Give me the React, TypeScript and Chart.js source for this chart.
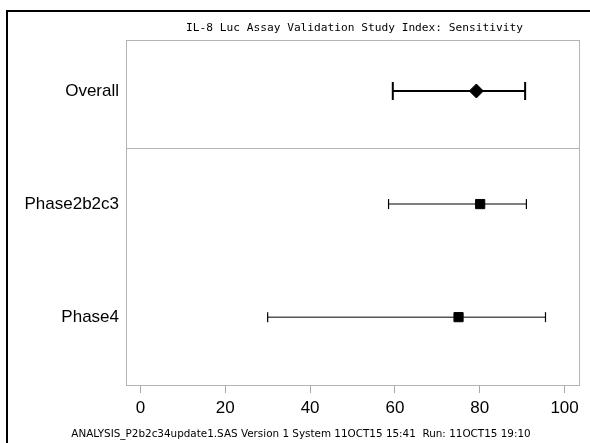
import React, { useEffect, useRef } from "react";
import { Chart, registerables } from "chart.js";

Chart.register(...registerables);

const TITLE = "IL-8 Luc Assay Validation Study Index: Sensitivity";
const FOOTNOTE = "ANALYSIS_P2b2c34update1.SAS Version 1 System 11OCT15 15:41  Run: 11OCT15 19:10";
const ROW_LABELS = ["Overall", "Phase2b2c3", "Phase4"];
const ROW_POS = [1, 2, 3];
const ESTIMATES = [79.2, 80.1, 75.0];
const LOWER = [59.5, 58.5, 30.0];
const UPPER = [90.7, 91.0, 95.5];
const X_TICKS = [0, 20, 40, 60, 80, 100];
const X_MIN = -3.4;
const X_MAX = 103.4;
const Y_MIN = 0.549;
const Y_MAX = 3.6;
const SEPARATOR = 1.5;

const W = 590;
const H = 443;

export default function App() {
  const ref = useRef<HTMLCanvasElement | null>(null);

  useEffect(() => {
    const canvas = ref.current;
    if (!canvas) return;

    const framePlugin = {
      id: "framePlugin",
      beforeDatasetsDraw(chart: any) {
        const { ctx, chartArea } = chart;
        const y = chart.scales.y;
        ctx.save();
        ctx.strokeStyle = "#b4b4b4";
        ctx.lineWidth = 1;
        ctx.strokeRect(
          Math.round(chartArea.left) + 0.5,
          Math.round(chartArea.top) + 0.5,
          Math.round(chartArea.right - chartArea.left),
          Math.round(chartArea.bottom - chartArea.top)
        );
        const sy = Math.round(y.getPixelForValue(SEPARATOR)) + 0.5;
        ctx.beginPath();
        ctx.moveTo(chartArea.left, sy);
        ctx.lineTo(chartArea.right, sy);
        ctx.stroke();
        ctx.restore();
      },
      afterDraw(chart: any) {
        const { ctx, chartArea } = chart;
        ctx.save();
        // outer frame
        ctx.strokeStyle = "#000";
        ctx.lineWidth = 2;
        ctx.beginPath();
        ctx.moveTo(7, H);
        ctx.lineTo(7, 11);
        ctx.lineTo(W, 11);
        ctx.stroke();
        // title
        ctx.fillStyle = "#000";
        ctx.textAlign = "center";
        ctx.textBaseline = "middle";
        ctx.font = "11.2px 'DejaVu Sans Mono'";
        ctx.fillText(TITLE, (chartArea.left + chartArea.right) / 2 + 2, 28);
        // footnote
        ctx.font = "10.4px 'DejaVu Sans'";
        ctx.fillText(FOOTNOTE, 301, 434);
        ctx.restore();
      },
    };

    const chart = new Chart(canvas, {
      type: "scatter",
      data: {
        datasets: [
          {
            label: "Estimate",
            data: ESTIMATES.map((v, i) => ({ x: v, y: ROW_POS[i] })),
            pointStyle: ESTIMATES.map((_, i) => (i === 0 ? "rectRot" : "rect")) as any,
            pointRadius: ESTIMATES.map((_, i) => (i === 0 ? 7 : 6.5)),
            pointBackgroundColor: "#000",
            pointBorderColor: "#000",
            pointBorderWidth: 1,
            showLine: false,
          },
          ...ROW_POS.map((p, i) => ({
            label: ROW_LABELS[i],
            data: [
              { x: LOWER[i], y: p },
              { x: UPPER[i], y: p },
            ],
            showLine: true,
            borderColor: i === 0 ? "#000" : "#555",
            borderWidth: i === 0 ? 2 : 1.5,
            pointStyle: "line" as any,
            rotation: 90,
            pointRadius: i === 0 ? 9 : 5,
            pointBorderColor: "#000",
            pointBorderWidth: i === 0 ? 2 : 1.2,
            pointBackgroundColor: "#000",
          })),
        ],
      },
      options: {
        responsive: false,
        animation: false,
        events: [],
        layout: { padding: { top: 40, right: 9, left: 0, bottom: 0 } },
        plugins: {
          legend: { display: false },
          tooltip: { enabled: false },
          title: { display: false },
        },
        scales: {
          x: {
            type: "linear",
            min: X_MIN,
            max: X_MAX,
            border: { display: false },
            grid: {
              display: true,
              drawOnChartArea: false,
              drawTicks: true,
              tickLength: 8,
              tickColor: "#a8a8a8",
              color: "#a8a8a8",
            },
            ticks: {
              color: "#000",
              font: { family: "'Liberation Sans', Arial", size: 17 },
              padding: 5,
              maxRotation: 0,
              autoSkip: false,
            },
            afterBuildTicks: (scale: any) => {
              scale.ticks = X_TICKS.map((v) => ({ value: v }));
            },
            afterFit: (scale: any) => {
              scale.height = 58;
            },
          },
          y: {
            type: "linear",
            reverse: true,
            min: Y_MIN,
            max: Y_MAX,
            border: { display: false },
            grid: { display: false, drawTicks: false },
            ticks: {
              color: "#000",
              font: { family: "'Liberation Sans', Arial", size: 17 },
              padding: 7,
              autoSkip: false,
              callback: (v: any) => {
                const idx = ROW_POS.indexOf(Number(v));
                return idx >= 0 ? ROW_LABELS[idx] : "";
              },
            },
            afterBuildTicks: (scale: any) => {
              scale.ticks = ROW_POS.map((v) => ({ value: v }));
            },
            afterFit: (scale: any) => {
              scale.width = 126;
            },
          },
        },
      },
      plugins: [framePlugin],
    } as any);

    return () => chart.destroy();
  }, []);

  return (
    <div style={{ position: "fixed", left: 0, top: 0, width: W, height: H, background: "#fff" }}>
      <canvas ref={ref} width={W} height={H} style={{ width: W, height: H, display: "block" }} />
    </div>
  );
}
